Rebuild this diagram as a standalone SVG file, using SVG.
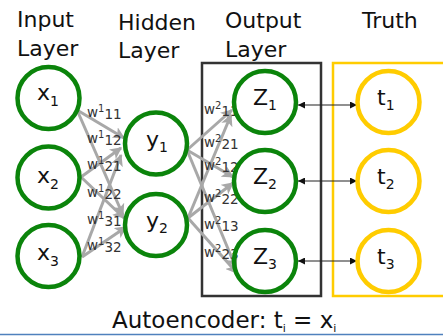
<svg xmlns="http://www.w3.org/2000/svg" width="443" height="336" viewBox="0 0 443 336">
<style>
text{font-family:"DejaVu Sans","Verdana",sans-serif;fill:#111}
.hdr{font-size:22px}
.cap{font-size:23px}
.lbl{font-size:22px}
.sub{font-size:14px}
.w{font-size:13.5px;fill:#333}
.ws{font-size:10px}
.g{fill:none;stroke:#0b840b;stroke-width:4.5}
.yl{fill:none;stroke:#ffcc00;stroke-width:4.5}
.gc{stroke:#a8a8a8;stroke-width:3;fill:none;marker-end:url(#ga)}
.bc{stroke:#222;stroke-width:1.2;fill:none;marker-end:url(#ba);marker-start:url(#bs)}
</style>
<defs>
<marker id="ga" viewBox="0 0 10 10" refX="9" refY="5" markerWidth="4" markerHeight="4" markerUnits="strokeWidth" orient="auto">
<path d="M0,0 L10,5 L0,10 L2.5,5 Z" fill="#a8a8a8"/>
</marker>
<marker id="ba" viewBox="0 0 10 10" refX="10" refY="5" markerWidth="8" markerHeight="7" markerUnits="userSpaceOnUse" orient="auto">
<path d="M0,0 L10,5 L0,10 Z" fill="#111"/>
</marker>
<marker id="bs" viewBox="0 0 10 10" refX="0" refY="5" markerWidth="8" markerHeight="7" markerUnits="userSpaceOnUse" orient="auto">
<path d="M10,0 L0,5 L10,10 Z" fill="#111"/>
</marker>
</defs>
<rect width="443" height="336" fill="#fff"/>
<line x1="0" y1="334.5" x2="443" y2="334.5" stroke="#4f81bd" stroke-width="1.5"/>

<g id="headers">
<text class="hdr" x="17" y="27">Input</text>
<text class="hdr" x="17" y="56">Layer</text>
<text class="hdr" x="118" y="30">Hidden</text>
<text class="hdr" x="118" y="58">Layer</text>
<text class="hdr" x="225" y="28">Output</text>
<text class="hdr" x="225" y="57">Layer</text>
<text class="hdr" x="362" y="28">Truth</text>
</g>

<g id="output-box"><rect x="202" y="63" width="119" height="233" fill="none" stroke="#333" stroke-width="2.5"/></g>
<g id="truth-box"><rect x="333" y="63" width="120" height="233" fill="none" stroke="#ffcc00" stroke-width="2.5"/></g>

<g id="connectors">
<line class="gc" x1="77" y1="110" x2="124" y2="138"/>
<line class="gc" x1="77" y1="110" x2="123" y2="215"/>
<line class="gc" x1="81" y1="177" x2="121" y2="148"/>
<line class="gc" x1="81" y1="177" x2="124" y2="218"/>
<line class="gc" x1="82" y1="257" x2="121" y2="155"/>
<line class="gc" x1="82" y1="257" x2="126" y2="227"/>
<line class="gc" x1="187" y1="150" x2="232" y2="110"/>
<line class="gc" x1="187" y1="150" x2="233" y2="177"/>
<line class="gc" x1="187" y1="150" x2="236" y2="268"/>
<line class="gc" x1="188" y1="218" x2="231" y2="115"/>
<line class="gc" x1="188" y1="218" x2="233" y2="183"/>
<line class="gc" x1="188" y1="218" x2="237" y2="273"/>
<line class="bc" x1="298" y1="105" x2="357" y2="105"/>
<line class="bc" x1="298" y1="181" x2="357" y2="181"/>
<line class="bc" x1="298" y1="261" x2="357" y2="261"/>
</g>

<g id="weights">
<text class="w" x="87" y="117">w<tspan class="ws" dy="-5">1</tspan><tspan dy="7">11</tspan></text>
<text class="w" x="87" y="143">w<tspan class="ws" dy="-5">1</tspan><tspan dy="7">12</tspan></text>
<text class="w" x="87" y="169">w<tspan class="ws" dy="-5">1</tspan><tspan dy="7">21</tspan></text>
<text class="w" x="87" y="197">w<tspan class="ws" dy="-5">1</tspan><tspan dy="7">22</tspan></text>
<text class="w" x="87" y="224">w<tspan class="ws" dy="-5">1</tspan><tspan dy="7">31</tspan></text>
<text class="w" x="87" y="250">w<tspan class="ws" dy="-5">1</tspan><tspan dy="7">32</tspan></text>
<text class="w" x="204" y="114">w<tspan class="ws" dy="-5">2</tspan><tspan dy="7">11</tspan></text>
<text class="w" x="204" y="147">w<tspan class="ws" dy="-5">2</tspan><tspan dy="7">21</tspan></text>
<text class="w" x="204" y="170">w<tspan class="ws" dy="-5">2</tspan><tspan dy="7">12</tspan></text>
<text class="w" x="204" y="202">w<tspan class="ws" dy="-5">2</tspan><tspan dy="7">22</tspan></text>
<text class="w" x="204" y="229">w<tspan class="ws" dy="-5">2</tspan><tspan dy="7">13</tspan></text>
<text class="w" x="204" y="257">w<tspan class="ws" dy="-5">2</tspan><tspan dy="7">23</tspan></text>
</g>

<g id="x1"><circle class="g" cx="48.5" cy="98" r="31"/><text class="lbl" x="37" y="100">x<tspan class="sub" dy="6">1</tspan></text></g>
<g id="x2"><circle class="g" cx="48.5" cy="177.5" r="31"/><text class="lbl" x="37" y="183">x<tspan class="sub" dy="6">2</tspan></text></g>
<g id="x3"><circle class="g" cx="48.5" cy="256" r="31"/><text class="lbl" x="37" y="260">x<tspan class="sub" dy="6">3</tspan></text></g>

<g id="y1"><circle class="g" cx="156" cy="143.5" r="31"/><text class="lbl" x="146" y="147">y<tspan class="sub" dy="5">1</tspan></text></g>
<g id="y2"><circle class="g" cx="156" cy="225" r="31"/><text class="lbl" x="146" y="228">y<tspan class="sub" dy="5">2</tspan></text></g>

<g id="z1"><circle class="g" cx="265" cy="102" r="31"/><text class="lbl" x="253" y="105">Z<tspan class="sub" dy="5">1</tspan></text></g>
<g id="z2"><circle class="g" cx="265" cy="181" r="31"/><text class="lbl" x="253" y="184">Z<tspan class="sub" dy="5">2</tspan></text></g>
<g id="z3"><circle class="g" cx="265" cy="261" r="31"/><text class="lbl" x="253" y="264">Z<tspan class="sub" dy="5">3</tspan></text></g>

<g id="t1"><circle class="yl" cx="388.5" cy="102" r="31"/><text class="lbl" x="377" y="105">t<tspan class="sub" dy="5">1</tspan></text></g>
<g id="t2"><circle class="yl" cx="388.5" cy="181" r="31"/><text class="lbl" x="377" y="184">t<tspan class="sub" dy="5">2</tspan></text></g>
<g id="t3"><circle class="yl" cx="388.5" cy="261" r="31"/><text class="lbl" x="377" y="264">t<tspan class="sub" dy="5">3</tspan></text></g>

<g id="caption"><text class="cap" x="112" y="328">Autoencoder: t<tspan font-size="11" dy="4">i</tspan><tspan dy="-4"> = x</tspan><tspan font-size="11" dy="4">i</tspan></text></g>
</svg>
